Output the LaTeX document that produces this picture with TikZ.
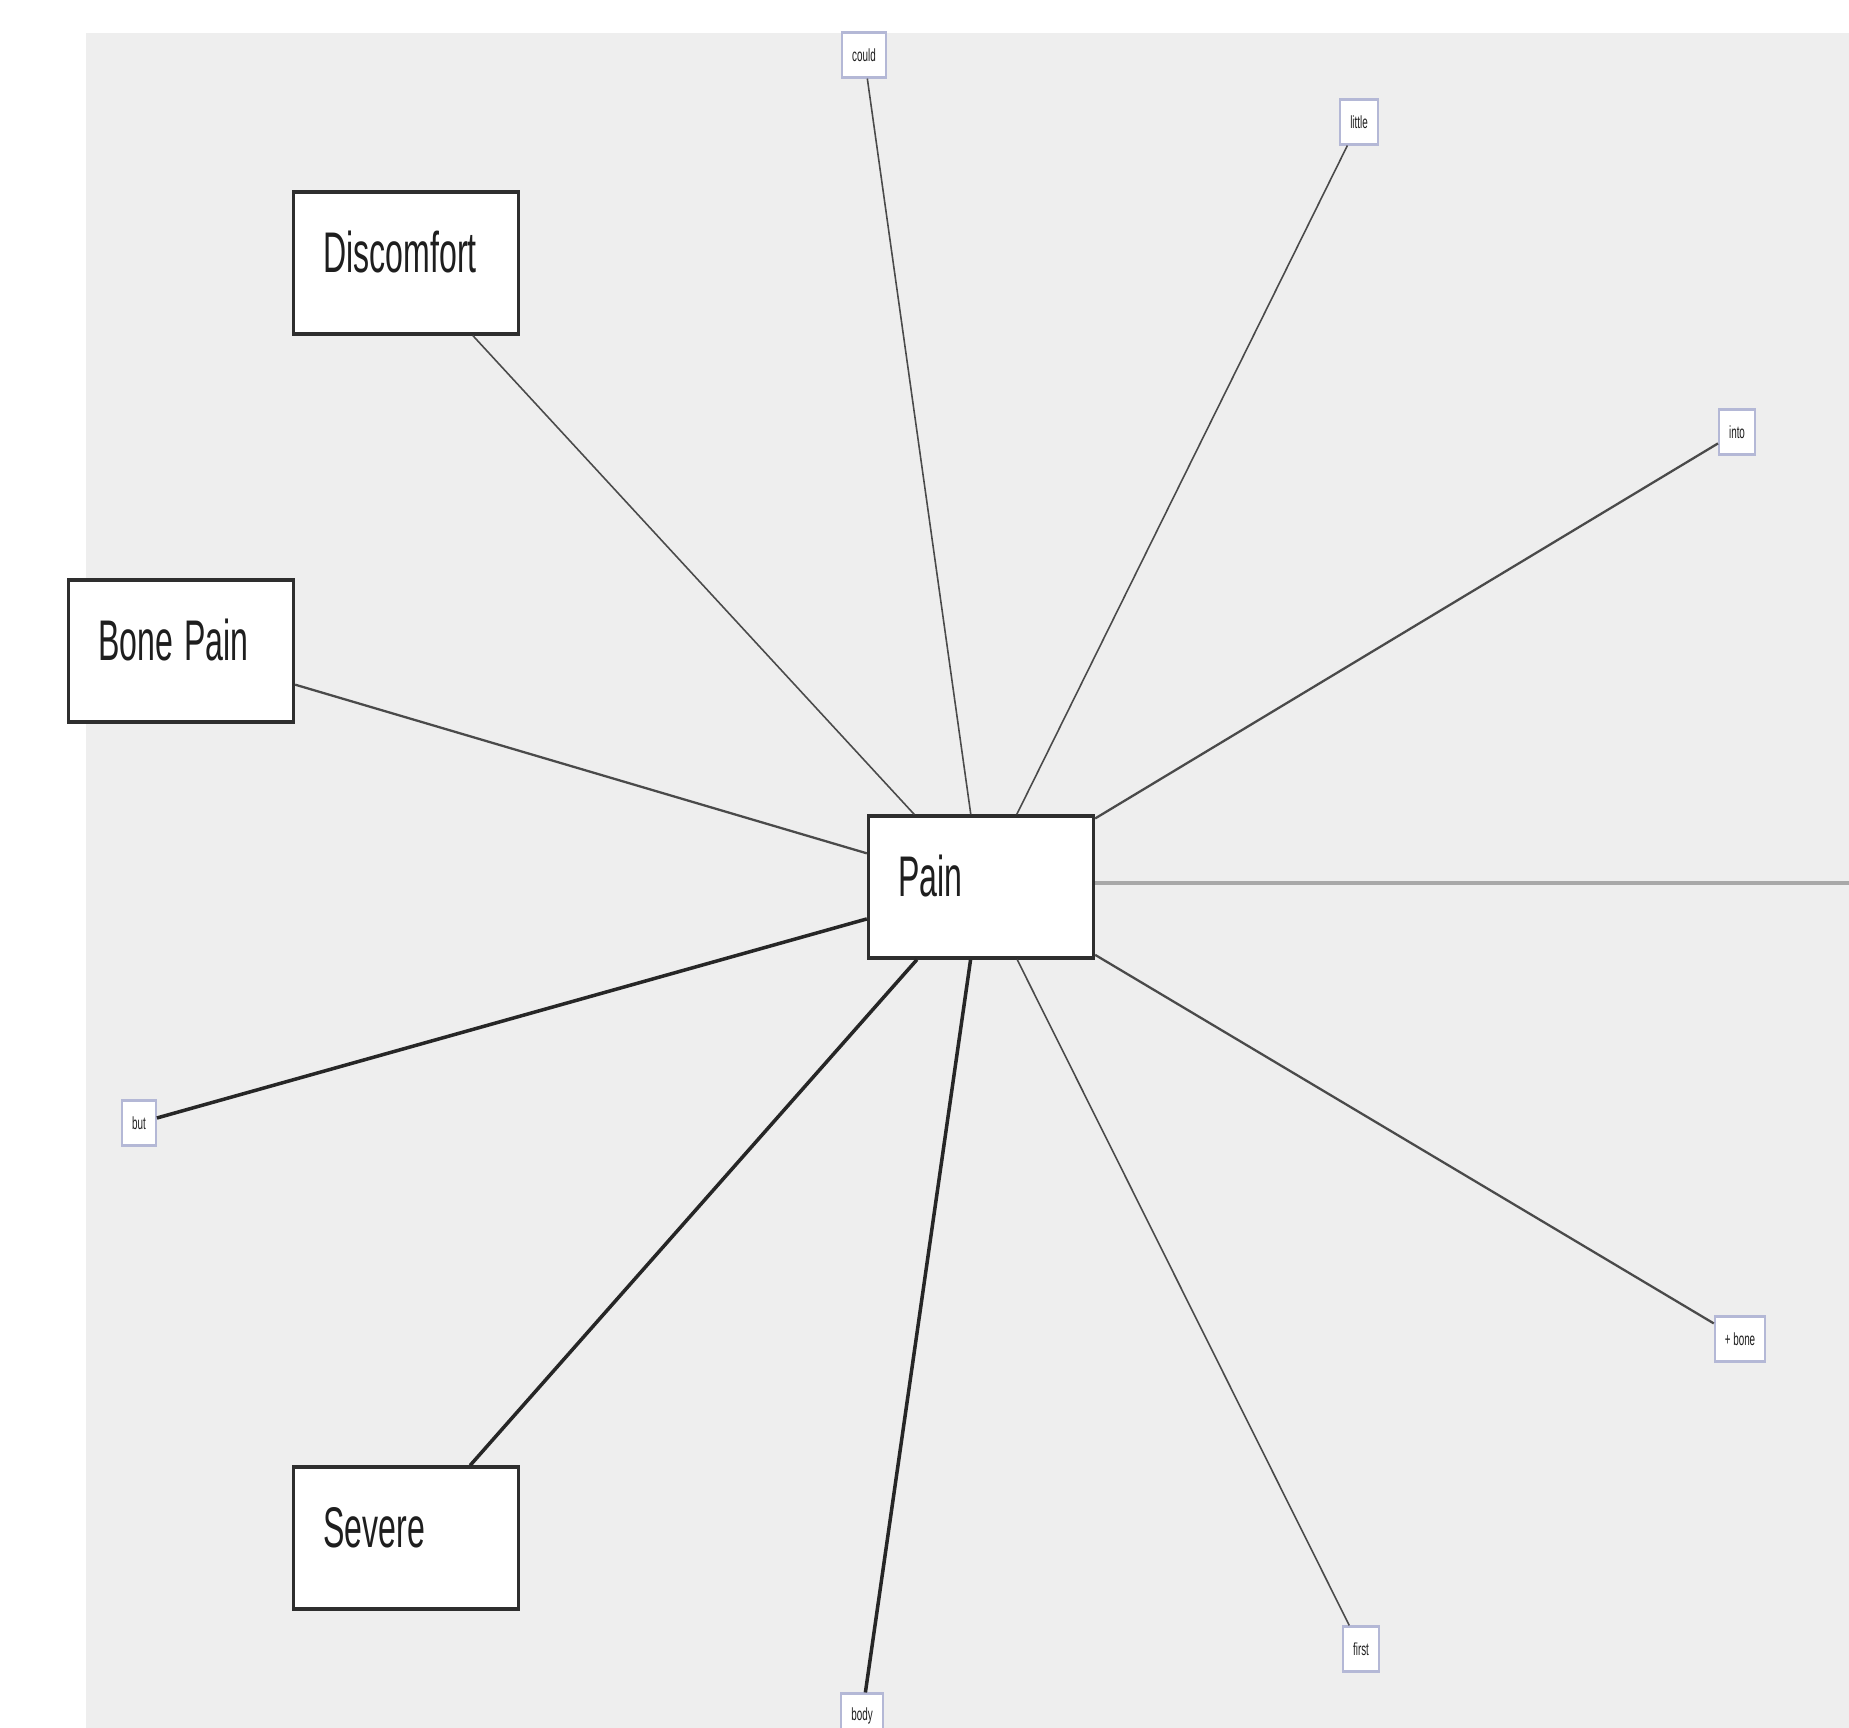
\documentclass[tikz,border=0pt]{standalone}
\usepackage{fontspec}
\setmainfont{Liberation Sans}
\usepackage{graphicx}
\usepackage{tikz}
\definecolor{canvas}{HTML}{EEEEEE}
\definecolor{ink}{HTML}{1E1E1E}
\definecolor{frame}{HTML}{2E2E2E}
\definecolor{wire}{HTML}{4A4A4A}
\definecolor{tagline}{HTML}{B4B8D6}
\definecolor{bar}{HTML}{A8A8A8}
\newcommand{\squash}[1]{\scalebox{0.56}[1]{#1}}

\begin{document}
\begin{tikzpicture}[x=0.01cm,y=-0.01cm,
  term/.style={draw=frame,fill=white,line width=0.9pt,minimum width=2.25cm,
               minimum height=1.42cm,inner xsep=0.3cm,inner ysep=0pt,
               text width=1.65cm,align=left,text height=0.41cm,text depth=0.22cm,
               font=\fontsize{16.3}{19}\selectfont,text=ink},
  tag/.style={draw=tagline,fill=white,line width=0.6pt,inner xsep=0.1cm,inner ysep=0pt,
              minimum width=0.3cm,minimum height=0.45cm,
              font=\fontsize{5}{6}\selectfont,text=ink},
  link/.style={draw=wire,line width=0.45pt},
  linkmid/.style={draw=wire,line width=0.65pt},
  linkbold/.style={draw=black!85,line width=1pt},
  linkgrey/.style={draw=bar,line width=1.2pt}
]
\useasboundingbox (0,0) rectangle (1849,1728);
\fill[canvas] (86,33) rectangle (1849,1728);

% main terms
\node[term] (pain) at (981,887) {\squash{Pain}};
\node[term] (disc) at (406,263) {\squash{Discomfort}};
\node[term] (bone) at (181,651) {\squash{Bone Pain}};
\node[term] (sev) at (406,1538) {\squash{Severe}};

% word tags
\node[tag] (could) at (864,55) {\squash{could}};
\node[tag] (little) at (1359,122) {\squash{little}};
\node[tag] (into) at (1737,432) {\squash{into}};
\node[tag] (but) at (139,1123) {\squash{but}};
\node[tag] (pbone) at (1740,1339) {\squash{+ bone}};
\node[tag] (first) at (1361,1649) {\squash{first}};
\node[tag] (body) at (862,1716) {\squash{body}};
\coordinate (rim) at (1849,883);

\draw[link] (pain) -- (disc);
\draw[linkmid] (pain) -- (bone);
\draw[linkbold] (pain) -- (sev);
\draw[link] (pain) -- (could);
\draw[link] (pain) -- (little);
\draw[linkmid] (pain) -- (into);
\draw[linkbold] (pain) -- (but);
\draw[linkmid] (pain) -- (pbone);
\draw[link] (pain) -- (first);
\draw[linkbold] (pain) -- (body);
\draw[linkgrey] (pain.east |- rim) -- (rim);
\end{tikzpicture}
\end{document}
